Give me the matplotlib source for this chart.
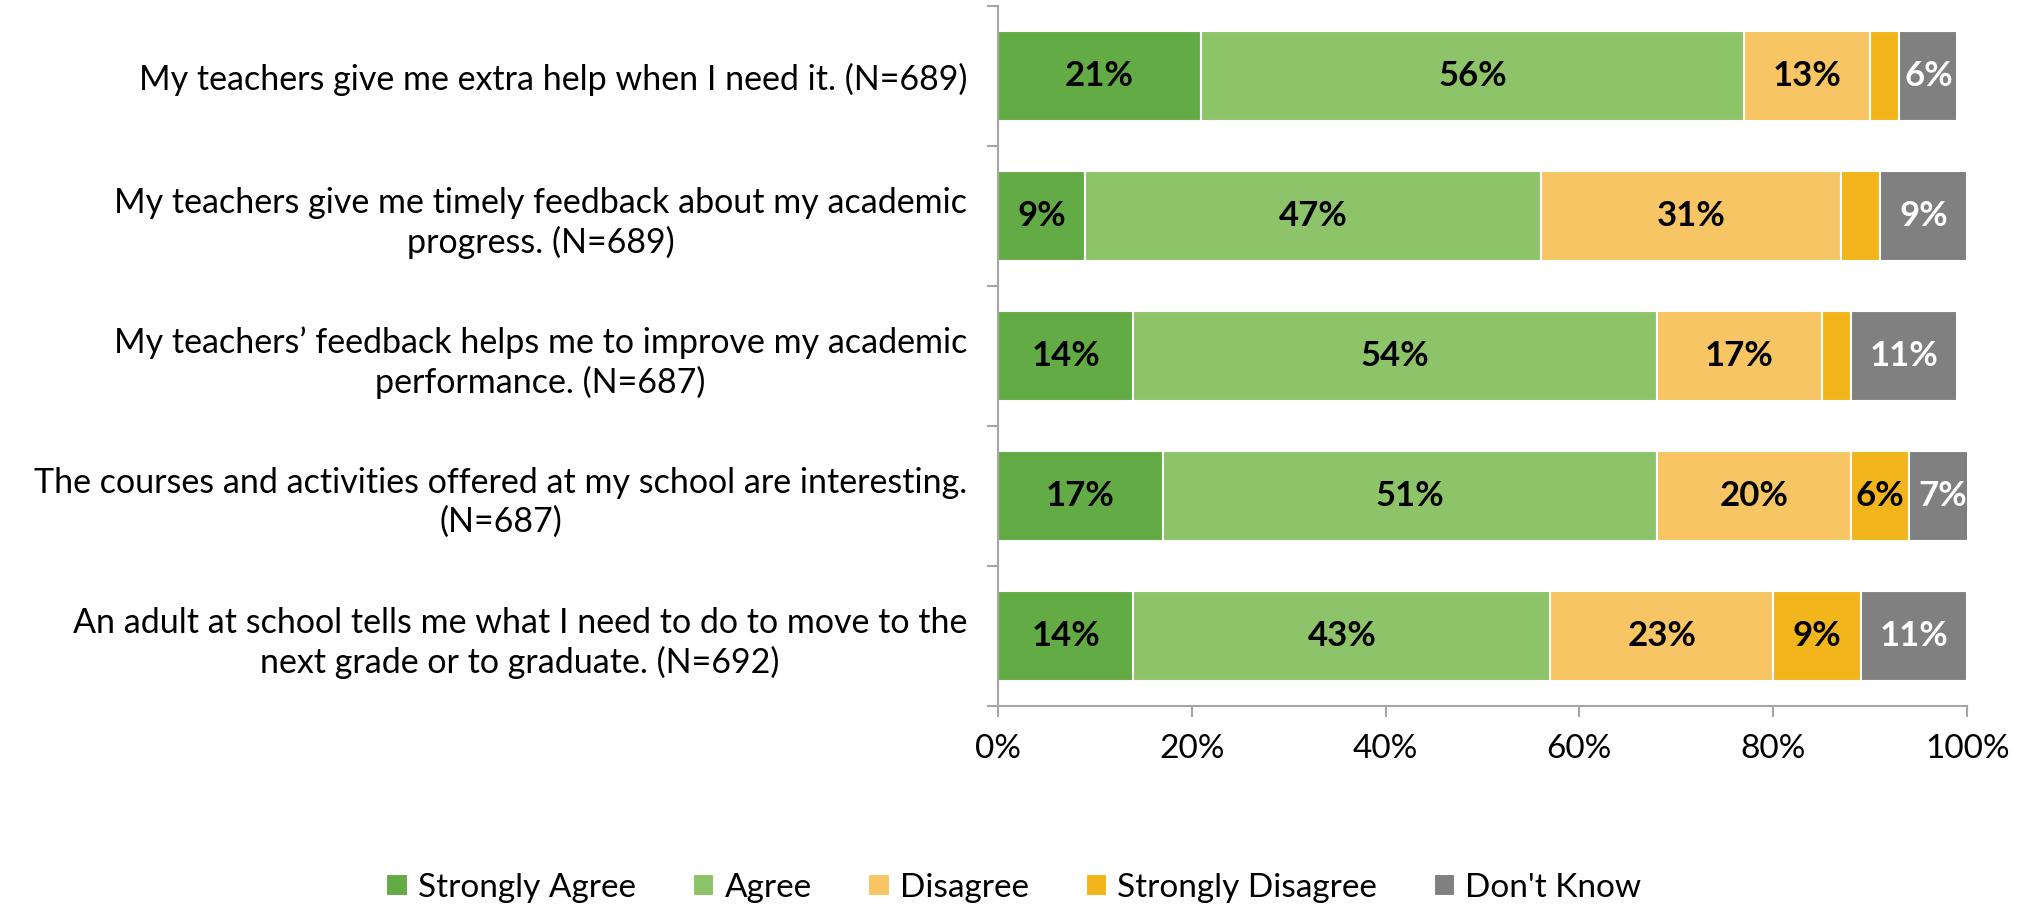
import numpy as np
import matplotlib.pyplot as plt

plt.rcParams['font.family'] = ['Lato', 'DejaVu Sans']

questions = [
    "My teachers give me extra help when I need it. (N=689)",
    "My teachers give me timely feedback about my academic\nprogress. (N=689)",
    "My teachers\u2019 feedback helps me to improve my academic\nperformance. (N=687)",
    "The courses and activities offered at my school are interesting.\n(N=687)",
    "An adult at school tells me what I need to do to move to the\nnext grade or to graduate. (N=692)",
]
categories = ["Strongly Agree", "Agree", "Disagree", "Strongly Disagree", "Don't Know"]
strongly_agree = [21, 9, 14, 17, 14]
agree = [56, 47, 54, 51, 43]
disagree = [13, 31, 17, 20, 23]
strongly_disagree = [3, 4, 3, 6, 9]
dont_know = [6, 9, 11, 7, 11]

colors = ["#62AB45", "#8DC46A", "#F7C564", "#F2B61C", "#808080"]
text_colors = ["black", "black", "black", "black", "white"]
series = [strongly_agree, agree, disagree, strongly_disagree, dont_know]

fig = plt.figure(figsize=(20.28, 9.1), dpi=100)
ax = fig.add_axes([0.492, 0.224, 0.478, 0.769])

y = np.arange(len(questions))
left = np.zeros(len(questions))
for vals, name, col, tcol in zip(series, categories, colors, text_colors):
    vals = np.array(vals, dtype=float)
    ax.barh(y, vals, left=left, height=0.645, color=col, edgecolor="white",
            linewidth=1.5, label=name)
    for yi, (l, v) in enumerate(zip(left, vals)):
        if v >= 5:
            ax.text(l + v / 2, yi, f"{int(v)}%", ha="center", va="center",
                    fontsize=25, fontweight="bold", color=tcol)
    left += vals

ax.set_xlim(0, 100)
ax.set_ylim(4.5, -0.5)
ax.set_xticks(np.arange(0, 101, 20))
ax.set_xticklabels([f"{t}%" for t in range(0, 101, 20)], fontsize=24)
ax.set_yticks(y)
ax.set_yticklabels(questions, fontsize=24.5, multialignment="center",
                   linespacing=1.25)
ax.tick_params(axis="y", length=0, pad=22)
ax.set_yticks(np.arange(-0.5, 5, 1), minor=True)
ax.tick_params(axis="y", which="minor", length=8, color="#A6A6A6", width=1.5)
ax.tick_params(axis="x", length=8, color="#A6A6A6", width=1.5, pad=12)

for s in ["top", "right"]:
    ax.spines[s].set_visible(False)
for s in ["left", "bottom"]:
    ax.spines[s].set_color("#A6A6A6")
    ax.spines[s].set_linewidth(1.5)

fig.legend(loc="lower center", bbox_to_anchor=(0.5, -0.025), ncol=5, frameon=False,
           fontsize=24, handlelength=0.65, handleheight=0.65, columnspacing=1.7,
           handletextpad=0.3)

fig.savefig("out.png", dpi=100)
